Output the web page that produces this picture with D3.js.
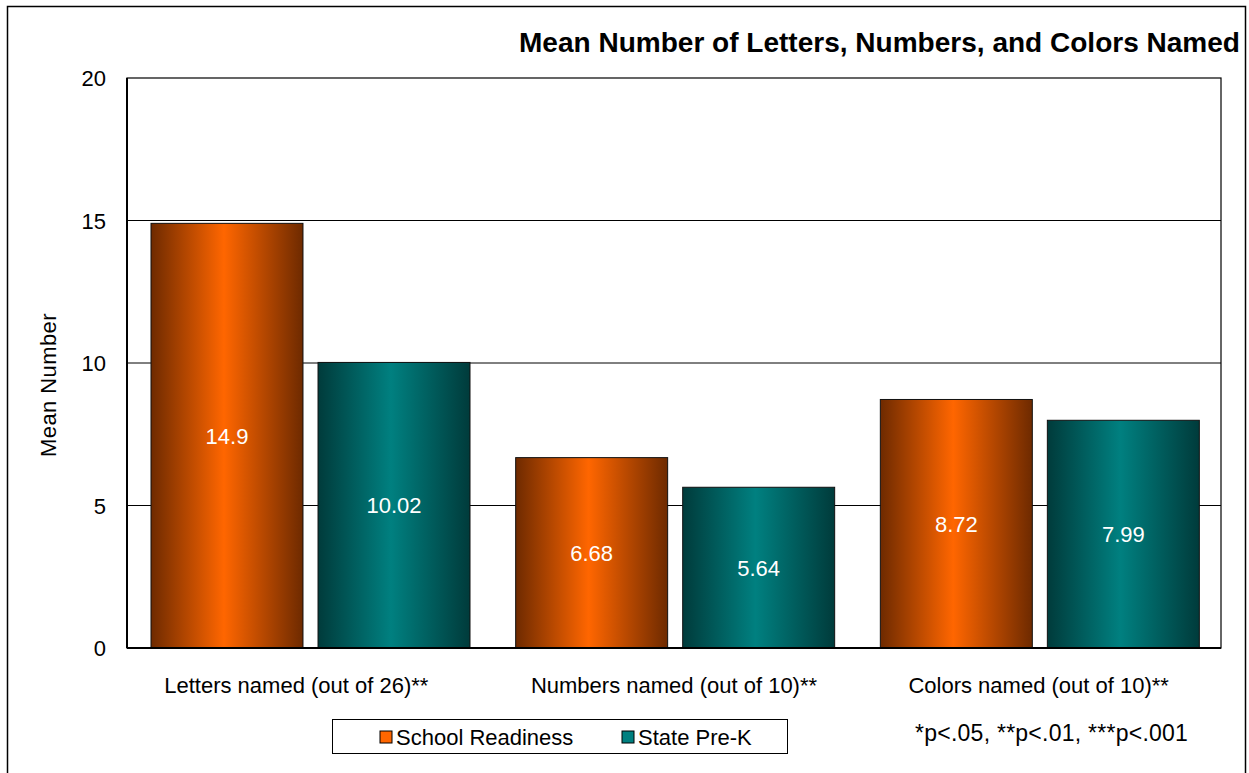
<!DOCTYPE html>
<head>
  <meta charset="utf-8">
  <script src="https://d3js.org/d3.v7.min.js"></script>
  <style>
    body { margin:0; background:#fff; }
    text { font-family: "Liberation Sans", Arial, sans-serif; }
  </style>
</head>
<body>
  <script>
    var categories = ["Letters named (out of 26)**", "Numbers named (out of 10)**", "Colors named (out of 10)**"];
    var seriesNames = ["School Readiness", "State Pre-K"];
    var schoolReadiness = [14.9, 6.68, 8.72];
    var statePreK = [10.02, 5.64, 7.99];
    var yTicks = [0, 5, 10, 15, 20];

    var W = 1249, H = 773;
    var pLeft = 127, pTop = 78, pRight = 1221, pBottom = 648;

    var svg = d3.select("body").append("svg")
      .attr("width", W).attr("height", H);

    // gradients, dark on the edges and bright in the middle
    var defs = svg.append("defs");
    function grad(id, dark, light) {
      var g = defs.append("linearGradient").attr("id", id)
        .attr("x1", "0%").attr("x2", "100%").attr("y1", "0%").attr("y2", "0%");
      g.append("stop").attr("offset", "0%").attr("stop-color", dark);
      g.append("stop").attr("offset", "48%").attr("stop-color", light);
      g.append("stop").attr("offset", "100%").attr("stop-color", dark);
    }
    grad("gOrange", "#6e2a00", "#ff6600");
    grad("gTeal", "#003b3b", "#008080");
    var fills = ["url(#gOrange)", "url(#gTeal)"];
    var swatch = ["#ff6600", "#008080"];

    // outer frame
    svg.append("rect").attr("x", 7.5).attr("y", 6.5).attr("width", 1238).attr("height", 790)
      .attr("fill", "none").attr("stroke", "#000").attr("stroke-width", 1.5);

    var x0 = d3.scaleBand().domain(categories).range([pLeft, pRight]);
    var x1 = d3.scaleBand().domain(seriesNames).range([24, 343]).paddingInner(0.09);
    var y = d3.scaleLinear().domain([0, 20]).range([pBottom, pTop]);

    // gridlines
    svg.append("g").selectAll("line").data(yTicks.slice(1, 4)).enter().append("line")
      .attr("x1", pLeft).attr("x2", pRight)
      .attr("y1", function (d) { return y(d); }).attr("y2", function (d) { return y(d); })
      .attr("stroke", "#000").attr("stroke-width", 1);

    // plot box
    svg.append("rect").attr("x", pLeft).attr("y", pTop).attr("width", pRight - pLeft).attr("height", pBottom - pTop)
      .attr("fill", "none").attr("stroke", "#000").attr("stroke-width", 1.2);

    var rows = categories.map(function (c, i) {
      return [{cat: c, s: 0, v: schoolReadiness[i]}, {cat: c, s: 1, v: statePreK[i]}];
    });

    var groups = svg.append("g").selectAll("g").data(rows).enter().append("g")
      .attr("transform", function (d, i) { return "translate(" + x0(categories[i]) + ",0)"; });

    groups.selectAll("rect").data(function (d) { return d; }).enter().append("rect")
      .attr("x", function (d) { return x1(seriesNames[d.s]); })
      .attr("y", function (d) { return y(d.v); })
      .attr("width", x1.bandwidth())
      .attr("height", function (d) { return y(0) - y(d.v); })
      .attr("fill", function (d) { return fills[d.s]; })
      .attr("stroke", "#111").attr("stroke-width", 1);

    groups.selectAll("text").data(function (d) { return d; }).enter().append("text")
      .attr("x", function (d) { return x1(seriesNames[d.s]) + x1.bandwidth() / 2; })
      .attr("y", function (d) { return (y(d.v) + y(0)) / 2 + 8; })
      .attr("text-anchor", "middle").attr("fill", "#fff").attr("font-size", 22)
      .text(function (d) { return d.v; });

    // axes lines (thicker left / bottom)
    svg.append("line").attr("x1", pLeft).attr("x2", pLeft).attr("y1", pTop).attr("y2", pBottom)
      .attr("stroke", "#000").attr("stroke-width", 2);
    svg.append("line").attr("x1", pLeft).attr("x2", pRight).attr("y1", pBottom).attr("y2", pBottom)
      .attr("stroke", "#000").attr("stroke-width", 2);

    // y tick labels
    svg.append("g").selectAll("text").data(yTicks).enter().append("text")
      .attr("x", 106).attr("y", function (d) { return y(d) + 8; })
      .attr("text-anchor", "end").attr("font-size", 22)
      .text(function (d) { return d; });

    // category labels (first one sits a bit left in the original)
    var labelShift = [-13, 0, 0];
    svg.append("g").selectAll("text").data(categories).enter().append("text")
      .attr("x", function (d, i) { return x0(d) + x0.bandwidth() / 2 + labelShift[i]; })
      .attr("y", 693).attr("text-anchor", "middle").attr("font-size", 22)
      .text(function (d) { return d; });

    // y axis title
    svg.append("text").attr("transform", "translate(56,385) rotate(-90)")
      .attr("text-anchor", "middle").attr("font-size", 22).attr("letter-spacing", 0.4)
      .text("Mean Number");

    // title
    svg.append("text").attr("x", 519).attr("y", 52)
      .attr("font-size", 27).attr("font-weight", "bold")
      .attr("textLength", 721).attr("lengthAdjust", "spacingAndGlyphs")
      .text("Mean Number of Letters, Numbers, and Colors Named");

    // legend
    var lg = svg.append("g");
    lg.append("rect").attr("x", 332.5).attr("y", 719.5).attr("width", 455).attr("height", 34)
      .attr("fill", "#fff").attr("stroke", "#000").attr("stroke-width", 1);
    var lx = [380, 622];
    seriesNames.forEach(function (n, i) {
      lg.append("rect").attr("x", lx[i]).attr("y", 731).attr("width", 12).attr("height", 12)
        .attr("fill", swatch[i]).attr("stroke", "#000").attr("stroke-width", 1);
      lg.append("text").attr("x", lx[i] + 16).attr("y", 745).attr("font-size", 22).text(n);
    });

    // significance note
    svg.append("text").attr("x", 915).attr("y", 741).attr("font-size", 23).attr("letter-spacing", 0.25)
      .text("*p<.05, **p<.01, ***p<.001");
  </script>
</body>
